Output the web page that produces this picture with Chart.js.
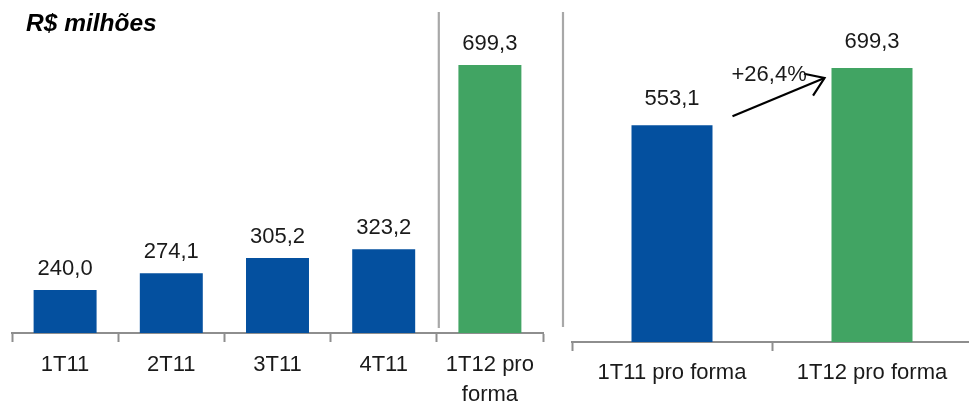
<!DOCTYPE html>
<html>
<head>
<meta charset="utf-8">
<script src="https://cdn.jsdelivr.net/npm/chart.js@4/dist/chart.umd.min.js"></script>
<style>
  html, body { margin: 0; padding: 0; background: #fff; overflow: hidden; width: 969px; height: 407px; }
  #wrap { position: relative; width: 969px; height: 407px; overflow: hidden; }
  #left { position: absolute; left: 0; top: 0; }
  #right { position: absolute; left: 555px; top: 0; }
</style>
</head>
<body>
<div id="wrap">
  <canvas id="left" width="560" height="407"></canvas>
  <canvas id="right" width="420" height="407"></canvas>
</div>
<script>
// ---- data ----
const titleText = 'R$ milhões';
const leftCategories = ['1T11', '2T11', '3T11', '4T11', ['1T12 pro', 'forma']];
const leftValues = [240.0, 274.1, 305.2, 323.2, 699.3];
const rightCategories = ['1T11 pro forma', '1T12 pro forma'];
const rightValues = [553.1, 699.3];
const growthLabel = '+26,4%';

// ---- styles ----
const BLUE = '#04509f';
const GREEN = '#41a463';
const AXIS = '#8e8e8e';
const SEP = '#a8a8a8';
const FONT = '"Liberation Sans Narrow", "Arial Narrow", "Liberation Sans", Arial, sans-serif';
const FS = 22;
const fmt = v => v.toFixed(1).replace('.', ',');

function valueLabels(gap) {
  return {
    id: 'valueLabels',
    afterDatasetsDraw(chart) {
      const ctx = chart.ctx;
      const meta = chart.getDatasetMeta(0);
      ctx.save();
      ctx.font = FS + 'px ' + FONT;
      ctx.fillStyle = '#1a1a1a';
      ctx.textAlign = 'center';
      ctx.textBaseline = 'alphabetic';
      meta.data.forEach((bar, i) => {
        ctx.fillText(fmt(chart.data.datasets[0].data[i]), bar.x, bar.y - gap);
      });
      ctx.restore();
    }
  };
}

const leftExtras = {
  id: 'leftExtras',
  afterDraw(chart) {
    const ctx = chart.ctx;
    const x = chart.scales.x;
    const area = chart.chartArea;
    // separator between 4T11 and 1T12
    const sx = (x.getPixelForValue(3) + x.getPixelForValue(4)) / 2 + 2;
    ctx.save();
    ctx.strokeStyle = SEP;
    ctx.lineWidth = 2.2;
    ctx.beginPath();
    ctx.moveTo(sx, 12);
    ctx.lineTo(sx, area.bottom - 5);
    ctx.stroke();
    // title
    ctx.font = 'italic bold 24.5px "Liberation Sans", Arial, sans-serif';
    ctx.fillStyle = '#000';
    ctx.textAlign = 'left';
    ctx.textBaseline = 'alphabetic';
    ctx.fillText(titleText, 26, 31);
    ctx.restore();
  }
};

const rightExtras = {
  id: 'rightExtras',
  afterDraw(chart) {
    const ctx = chart.ctx;
    const area = chart.chartArea;
    const meta = chart.getDatasetMeta(0);
    const b0 = meta.data[0], b1 = meta.data[1];
    ctx.save();
    // separator
    ctx.strokeStyle = SEP;
    ctx.lineWidth = 2.2;
    ctx.beginPath();
    ctx.moveTo(area.left - 9, 12);
    ctx.lineTo(area.left - 9, area.bottom - 15);
    ctx.stroke();
    // growth arrow
    const x0 = b0.x + b0.width / 2 + 20, y0 = b0.y - 9;
    const x1 = b1.x - b1.width / 2 - 7, y1 = b1.y + 10;
    ctx.strokeStyle = '#000';
    ctx.lineWidth = 2.2;
    ctx.beginPath();
    ctx.moveTo(x0, y0);
    ctx.lineTo(x1, y1);
    ctx.stroke();
    const ang = Math.atan2(y1 - y0, x1 - x0);
    const L = 21, spread = 0.6;
    ctx.beginPath();
    ctx.moveTo(x1 - L * Math.cos(ang - spread), y1 - L * Math.sin(ang - spread));
    ctx.lineTo(x1, y1);
    ctx.lineTo(x1 - L * Math.cos(ang + spread), y1 - L * Math.sin(ang + spread));
    ctx.stroke();
    ctx.font = FS + 'px ' + FONT;
    ctx.fillStyle = '#1a1a1a';
    ctx.textAlign = 'left';
    ctx.textBaseline = 'middle';
    ctx.fillText(growthLabel, x0 - 1, y1 - 3);
    ctx.restore();
  }
};

function xScale(labelPadding, height) {
  return {
    type: 'category',
    offset: true,
    grid: {
      display: true,
      drawOnChartArea: false,
      drawTicks: true,
      tickLength: 9,
      tickColor: AXIS,
      tickWidth: 2,
      color: AXIS
    },
    border: { display: true, color: AXIS, width: 2 },
    ticks: {
      color: '#1a1a1a',
      font: { family: FONT, size: FS, lineHeight: 30 / FS },
      padding: labelPadding,
      maxRotation: 0,
      minRotation: 0,
      autoSkip: false
    },
    afterFit(scale) { scale.height = height; }
  };
}

Chart.defaults.animation = false;

new Chart(document.getElementById('left'), {
  type: 'bar',
  data: {
    labels: leftCategories,
    datasets: [{
      data: leftValues,
      backgroundColor: leftValues.map((v, i) => i === leftValues.length - 1 ? GREEN : BLUE),
      barPercentage: 0.593,
      categoryPercentage: 1.0,
      borderWidth: 0
    }]
  },
  options: {
    responsive: false,
    devicePixelRatio: 1,
    layout: { padding: { left: 12, right: 17, top: 0, bottom: 0 } },
    plugins: { legend: { display: false }, tooltip: { enabled: false }, title: { display: false } },
    scales: {
      x: xScale(8, 74),
      y: { display: false, min: 152, max: 832 }
    }
  },
  plugins: [valueLabels(15), leftExtras]
});

new Chart(document.getElementById('right'), {
  type: 'bar',
  data: {
    labels: rightCategories,
    datasets: [{
      data: rightValues,
      backgroundColor: [BLUE, GREEN],
      barPercentage: 0.405,
      categoryPercentage: 1.0,
      borderWidth: 0
    }]
  },
  options: {
    responsive: false,
    devicePixelRatio: 1,
    layout: { padding: { left: 17, right: 3, top: 0, bottom: 0 } },
    plugins: { legend: { display: false }, tooltip: { enabled: false }, title: { display: false } },
    scales: {
      x: xScale(7, 65),
      y: { display: false, min: 0, max: 873 }
    }
  },
  plugins: [valueLabels(20), rightExtras]
});
</script>
</body>
</html>
